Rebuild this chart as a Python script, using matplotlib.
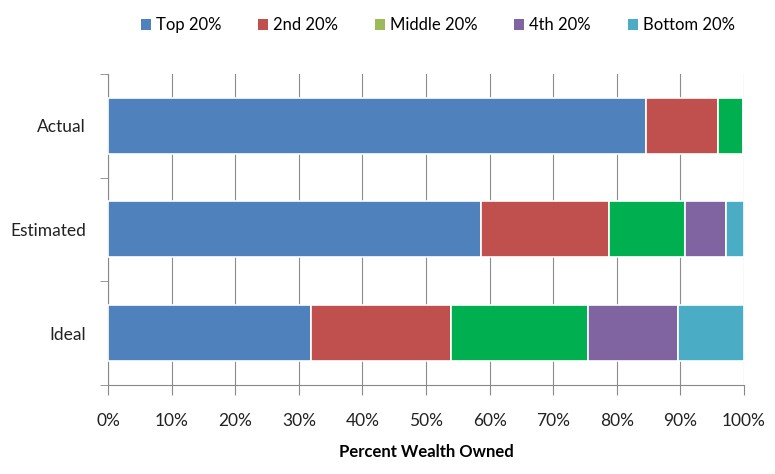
import matplotlib.pyplot as plt
from matplotlib.patches import Patch

# data
categories = ["Actual", "Estimated", "Ideal"]
groups = ["Top 20%", "2nd 20%", "Middle 20%", "4th 20%", "Bottom 20%"]
top20 = [84.6, 58.6, 31.9]
second20 = [11.3, 20.2, 22.0]
middle20 = [3.9, 11.9, 21.6]
fourth20 = [0.2, 6.4, 14.1]
bottom20 = [0.1, 2.9, 10.4]

bar_colors = ["#4F81BD", "#C0504D", "#00B050", "#8064A2", "#4BACC6"]
legend_colors = ["#4F81BD", "#C0504D", "#9BBB59", "#8064A2", "#4BACC6"]

plt.rcParams['font.family'] = ['Lato', 'DejaVu Sans']

fig = plt.figure(figsize=(7.75, 4.74), dpi=100)
ax = fig.add_axes([0.1394, 0.1878, 0.8206, 0.6561])

ypos = [2, 1, 0]
left = [0, 0, 0]
for vals, col in zip([top20, second20, middle20, fourth20, bottom20], bar_colors):
    ax.barh(ypos, vals, left=left, height=0.54, color=col, edgecolor="white",
            linewidth=1.2, zorder=3)
    left = [l + v for l, v in zip(left, vals)]

ax.set_xlim(0, 100)
ax.set_ylim(-0.5, 2.5)
ax.set_xticks(range(0, 101, 10))
ax.set_xticklabels([f"{x}%" for x in range(0, 101, 10)], fontsize=12.5, color="#222222")
ax.set_yticks(ypos)
ax.set_yticklabels(categories, fontsize=12.5, color="#222222")
ax.set_yticks([-0.5, 0.5, 1.5, 2.5], minor=True)
ax.tick_params(axis="y", which="major", length=0, pad=16)
ax.tick_params(axis="y", which="minor", length=6, color="#888888")
ax.tick_params(axis="x", length=7, color="#888888", pad=13)

ax.grid(axis="x", color="#8c8c8c", linewidth=0.8, zorder=0)
for s in ["top", "right"]:
    ax.spines[s].set_visible(False)
for s in ["left", "bottom"]:
    ax.spines[s].set_color("#888888")

ax.set_xlabel("Percent Wealth Owned", fontsize=12, fontweight="bold", labelpad=11)

handles = [Patch(facecolor=c, edgecolor="none") for c in legend_colors]
fig.legend(handles, groups, loc="center", bbox_to_anchor=(0.565, 0.947), ncol=5,
           frameon=False, fontsize=12, handlelength=0.6, handleheight=0.6,
           handletextpad=0.3, columnspacing=2.2)

fig.savefig("out.png", dpi=100, facecolor="white")
